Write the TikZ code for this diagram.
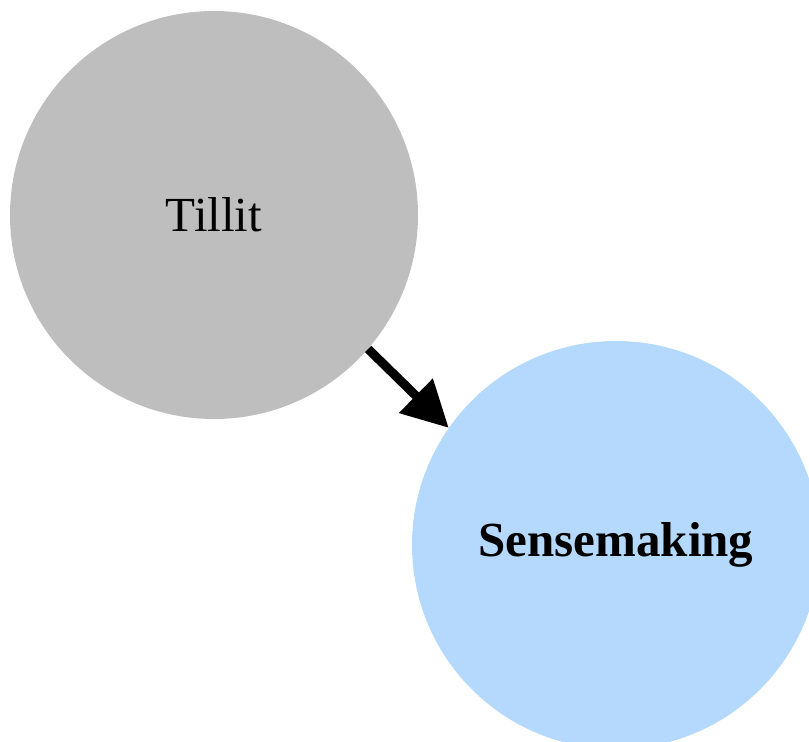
\documentclass[tikz,border=0pt]{standalone}
\usepackage{fontspec}
\setmainfont{Liberation Serif}
\usetikzlibrary{arrows.meta}
\definecolor{nodegray}{RGB}{190,190,190}
\definecolor{nodeblue}{RGB}{181,217,252}
\begin{document}
\begin{tikzpicture}[x=1pt,y=-1pt,
  bubble/.style={circle,inner sep=0pt,minimum size=408pt,font=\fontsize{49}{56}\selectfont},
  link/.style={line width=9pt,-{Triangle[length=46pt,width=46pt]}}]
\useasboundingbox (0,0) rectangle (809,742);
\node[bubble,fill=nodegray] (t) at (214,215) {Tillit};
\node[bubble,fill=nodeblue,font=\fontsize{49}{56}\selectfont\bfseries] (s) at (616,545) {Sensemaking};
\draw[link] (t.-41) -- (s.145);
\end{tikzpicture}
\end{document}
